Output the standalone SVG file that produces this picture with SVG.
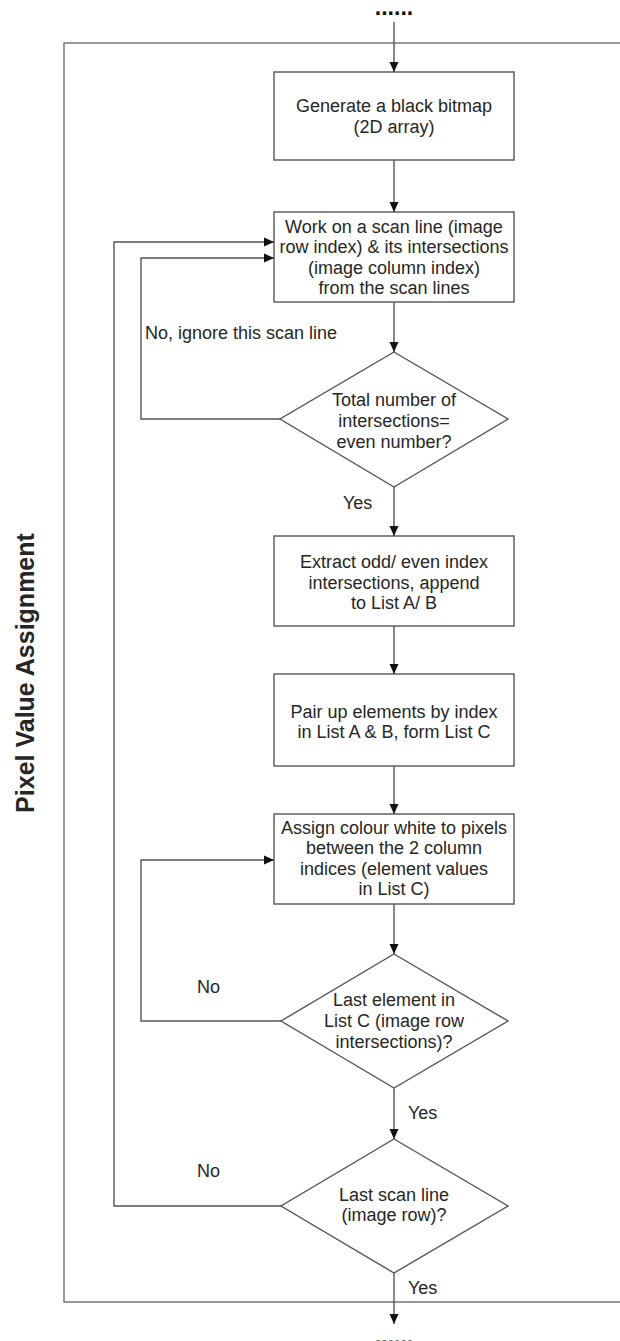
<svg xmlns="http://www.w3.org/2000/svg" width="620" height="1341" viewBox="0 0 620 1341">
<style>
.bx{fill:#fff;stroke:#555;stroke-width:1.4}
.t{font-family:"Liberation Sans",Arial,sans-serif;font-size:18px;fill:#262626;text-anchor:middle}
.l{font-family:"Liberation Sans",Arial,sans-serif;font-size:18px;fill:#262626}
.c{fill:none;stroke:#555;stroke-width:1.4}
.dots{font-family:"Liberation Sans",Arial,sans-serif;font-size:23px;font-weight:bold;fill:#111;text-anchor:middle}
</style>
<defs>
<marker id="ah" markerWidth="10" markerHeight="10" viewBox="0 0 10 10" refX="10" refY="5" orient="auto" markerUnits="userSpaceOnUse"><path d="M0,0.5 L10,5 L0,9.5 z" fill="#111"/></marker>
</defs>
<rect width="620" height="1341" fill="#fff"/>
<g id="frame">
<path d="M625,43 H64 V1302 H625" fill="none" stroke="#777" stroke-width="1.5"/>
<text transform="translate(34,673) rotate(-90)" text-anchor="middle" style="font-family:'Liberation Sans',Arial,sans-serif;font-size:25px;font-weight:bold;fill:#262626">Pixel Value Assignment</text>
</g>
<g id="dots-top"><text class="dots" x="394" y="15">......</text></g>
<g id="dots-bottom"><text class="dots" x="394" y="1344">......</text></g>
<g id="n1"><rect class="bx" x="274" y="72" width="240" height="88"/>
<text class="t" x="394" y="112">Generate a black bitmap</text>
<text class="t" x="394" y="133">(2D array)</text></g>
<g id="n2"><rect class="bx" x="274" y="212" width="240" height="90"/>
<text class="t" x="394" y="233">Work on a scan line (image</text>
<text class="t" x="394" y="253">row index) &amp; its intersections</text>
<text class="t" x="394" y="274">(image column index)</text>
<text class="t" x="394" y="294">from the scan lines</text></g>
<g id="d1"><path class="bx" d="M394,352 L508,419 L394,487 L280,419 Z"/>
<text class="t" x="394" y="406">Total number of</text>
<text class="t" x="394" y="427">intersections=</text>
<text class="t" x="394" y="448">even number?</text></g>
<g id="n3"><rect class="bx" x="274" y="536" width="240" height="90"/>
<text class="t" x="394" y="568">Extract odd/ even index</text>
<text class="t" x="394" y="589">intersections, append</text>
<text class="t" x="394" y="609">to List A/ B</text></g>
<g id="n4"><rect class="bx" x="274" y="674" width="240" height="92"/>
<text class="t" x="394" y="718">Pair up elements by index</text>
<text class="t" x="394" y="738">in List A &amp; B, form List C</text></g>
<g id="n5"><rect class="bx" x="274" y="814" width="240" height="90"/>
<text class="t" x="394" y="834">Assign colour white to pixels</text>
<text class="t" x="394" y="854">between the 2 column</text>
<text class="t" x="394" y="875">indices (element values</text>
<text class="t" x="394" y="895">in List C)</text></g>
<g id="d2"><path class="bx" d="M394,954 L508,1021 L394,1088 L281,1021 Z"/>
<text class="t" x="394" y="1006">Last element in</text>
<text class="t" x="394" y="1027">List C (image row</text>
<text class="t" x="394" y="1048">intersections)?</text></g>
<g id="d3"><path class="bx" d="M394,1139 L508,1206 L394,1273 L281,1206 Z"/>
<text class="t" x="394" y="1201">Last scan line</text>
<text class="t" x="394" y="1221">(image row)?</text></g>
<g id="connectors">
<path class="c" d="M394,22 V72" marker-end="url(#ah)"/>
<path class="c" d="M394,160 V212" marker-end="url(#ah)"/>
<path class="c" d="M394,302 V352" marker-end="url(#ah)"/>
<path class="c" d="M394,487 V536" marker-end="url(#ah)"/>
<path class="c" d="M394,626 V674" marker-end="url(#ah)"/>
<path class="c" d="M394,766 V814" marker-end="url(#ah)"/>
<path class="c" d="M394,904 V954" marker-end="url(#ah)"/>
<path class="c" d="M394,1088 V1139" marker-end="url(#ah)"/>
<path class="c" d="M394,1273 V1324" marker-end="url(#ah)"/>
<path class="c" d="M280,419 H141 V258 H274" marker-end="url(#ah)"/>
<path class="c" d="M281,1021 H141 V860 H274" marker-end="url(#ah)"/>
<path class="c" d="M281,1206 H114 V242 H274" marker-end="url(#ah)"/>
<text class="l" x="145" y="339">No, ignore this scan line</text>
<text class="l" x="343" y="509">Yes</text>
<text class="l" x="197" y="993">No</text>
<text class="l" x="408" y="1119">Yes</text>
<text class="l" x="197" y="1177">No</text>
<text class="l" x="408" y="1294">Yes</text>
</g>
</svg>
